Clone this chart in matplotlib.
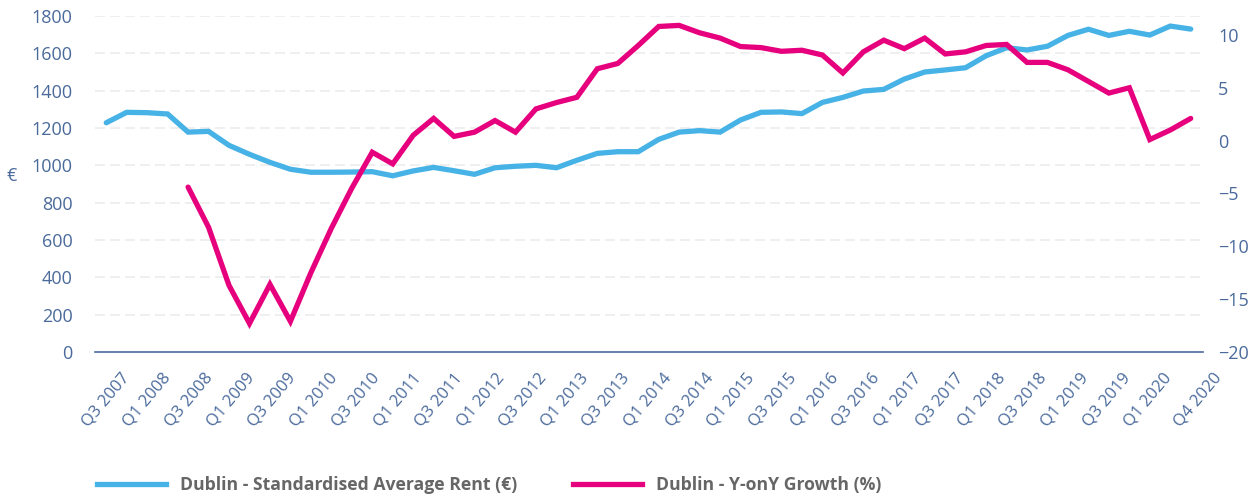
import matplotlib
matplotlib.use("Agg")
import matplotlib.pyplot as plt
import matplotlib.transforms as mtransforms
from matplotlib.lines import Line2D
import numpy as np

quarters = []
for y in range(2007, 2021):
    for q in range(1, 5):
        if (y == 2007 and q < 3):
            continue
        quarters.append(f"Q{q} {y}")

rent = [1228, 1284, 1282, 1275, 1178, 1182, 1107, 1059, 1016, 979,
        963, 963, 964, 966, 944, 970, 989, 971, 952, 987,
        995, 1000, 987, 1027, 1064, 1073, 1073, 1139, 1178, 1186,
        1178, 1243, 1284, 1286, 1277, 1337, 1364, 1398, 1407, 1462,
        1500, 1511, 1523, 1587, 1630, 1618, 1638, 1696, 1729, 1696,
        1718, 1698, 1746, 1730]

growth = [None, None, None, None, -4.4, -8.2, -13.7, -17.3, -13.6, -17.1,
          -12.5, -8.3, -4.5, -1.1, -2.2, 0.5, 2.1, 0.4, 0.8, 1.9,
          0.8, 3.0, 3.6, 4.1, 6.8, 7.3, 9.0, 10.8, 10.9, 10.2,
          9.7, 8.9, 8.8, 8.45, 8.55, 8.1, 6.4, 8.4, 9.5, 8.7,
          9.7, 8.2, 8.4, 9.0, 9.1, 7.4, 7.4, 6.7, 5.6, 4.5,
          5.0, 0.1, 1.0, 2.1]

label_idx = list(range(0, 52, 2)) + [53]
rent_ticks = list(range(0, 1801, 200))
growth_ticks = list(range(-20, 11, 5))

legend_labels = ["Dublin - Standardised Average Rent (\u20ac)", "Dublin - Y-onY Growth (%)"]

blue = "#47b2e6"
pink = "#e6007e"
tick_col = "#4a6a9b"

plt.rcParams['font.family'] = ['Open Sans', 'DejaVu Sans']

fig = plt.figure(figsize=(12.55, 4.97), dpi=100)
ax = fig.add_axes([95/1255, 1-352/497, (1203-95)/1255, (352-16)/497])
ax2 = ax.twinx()

x = np.arange(len(quarters))
ax.plot(x, rent, color=blue, lw=3.8, solid_capstyle='round', solid_joinstyle='miter', zorder=3)
g = np.array([np.nan if v is None else v for v in growth], dtype=float)
ax2.plot(x, g, color=pink, lw=3.8, solid_capstyle='round', solid_joinstyle='miter', zorder=3)

ax.set_xlim(-0.55, len(quarters) - 1 + 0.6)
ax.set_ylim(0, 1800)
ax2.set_ylim(-20, 11.79)

ax.set_yticks(rent_ticks)
ax2.set_yticks(growth_ticks)
ax.set_xticks([x[i] for i in label_idx])
ax.set_xticklabels([quarters[i] for i in label_idx], rotation=50, ha='right', va='top',
                   rotation_mode='anchor', color=tick_col, fontsize=12)

for a in (ax, ax2):
    for s in a.spines.values():
        s.set_visible(False)
    a.tick_params(length=0, colors=tick_col, labelsize=13)
ax.tick_params(axis='y', pad=16)
ax2.tick_params(axis='y', pad=11)
ax.tick_params(axis='x', pad=13, labelsize=12)
ax.spines['bottom'].set_visible(True)
ax.spines['bottom'].set_color('#4a6a9b')
ax.spines['bottom'].set_linewidth(1.2)

# shift rotated labels horizontally as in the reference layout
n_lab = len(label_idx)
for k, lab in enumerate(ax.get_xticklabels()):
    dx = 14 + 0.78 * k if k < n_lab - 1 else 22
    lab.set_transform(lab.get_transform() + mtransforms.ScaledTranslation(dx / 100, 0, fig.dpi_scale_trans))

for t in rent_ticks[1:]:
    ax.axhline(t, color='#ececec', lw=1.2, ls=(0, (6, 3)), zorder=1)

ax.set_ylabel("\u20ac", rotation=0, color=tick_col, fontsize=13, va='center', ha='center')
ax.yaxis.set_label_coords((12 - 95) / 1108, (352 - 176) / 336)

handles = [Line2D([], [], color=blue, lw=3.8), Line2D([], [], color=pink, lw=3.8)]
leg = fig.legend(handles, legend_labels, loc='center left', bbox_to_anchor=(81/1255, 1-485/497),
                 ncol=2, frameon=False, handlelength=3.9, handletextpad=0.8, columnspacing=3.2,
                 prop={'weight': 'bold', 'size': 12.7})
for t in leg.get_texts():
    t.set_color('#666666')

fig.savefig("out.png", dpi=100)
